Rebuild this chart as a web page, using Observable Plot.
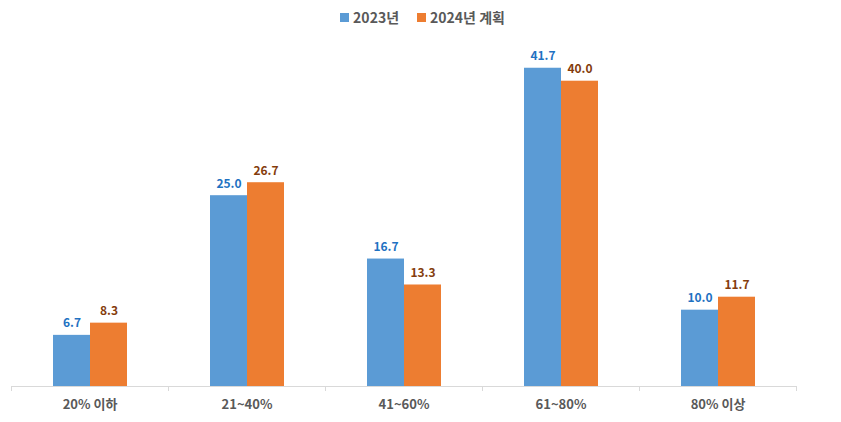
<!DOCTYPE html>
<html><head><meta charset="utf-8">
<script src="https://cdn.jsdelivr.net/npm/d3@7"></script>
<script src="https://cdn.jsdelivr.net/npm/@observablehq/plot@0.6"></script>
<style>
body{margin:0;background:#fff;font-family:"Noto Sans CJK KR","Noto Sans",sans-serif;}
#legend{height:34px;display:flex;justify-content:center;align-items:center;gap:18px;font-size:14px;font-weight:bold;color:#595959;padding-left:4px;}
#legend span.item{display:flex;align-items:center;gap:4px;}
#legend span.sw{display:inline-block;width:9px;height:9px;}
</style>
</head><body>
<div id="legend"></div>
<div id="chart"></div>
<script>
const categories = ["20% 이하","21~40%","41~60%","61~80%","80% 이상"];
const series = ["2023년","2024년 계획"];
const values2023 = [6.7,25.0,16.7,41.7,10.0];
const values2024 = [8.3,26.7,13.3,40.0,11.7];
const barColors = ["#5B9BD5","#ED7D31"];
const labelColors = ["#1F72C2","#843C0C"];

const table = categories.flatMap((c,i)=>[
  {cat:c, series:series[0], value:values2023[i]},
  {cat:c, series:series[1], value:values2024[i]}
]);

const legend = document.getElementById("legend");
series.forEach((s,i)=>{
  const it = document.createElement("span"); it.className="item";
  const sw = document.createElement("span"); sw.className="sw"; sw.style.background=barColors[i];
  const tx = document.createElement("span"); tx.textContent=s;
  it.append(sw,tx); legend.append(it);
});

const W=841, H=388, mL=11, mR=45;
const step = (W-mL-mR)/categories.length;

const chart = Plot.plot({
  width:W, height:H, marginLeft:mL, marginRight:mR, marginTop:20, marginBottom:36,
  style:{fontFamily:'"Noto Sans CJK KR","Noto Sans",sans-serif', background:"#fff"},
  fx:{domain:categories, padding:0, label:null, axis:null},
  x:{domain:series, axis:null, paddingInner:0, paddingOuter:1.09},
  y:{domain:[0,43.5], axis:null},
  color:{domain:series, range:barColors},
  marks:[
    Plot.barY(table,{fx:"cat", x:"series", y:"value", fill:"series"}),
    Plot.ruleY([0],{stroke:"#d9d9d9", strokeWidth:1}),
    ...series.map((s,i)=>Plot.text(table.filter(d=>d.series===s),{fx:"cat", x:"series", y:"value", text:d=>d.value.toFixed(1), fill:labelColors[i], dy:-8, lineAnchor:"bottom", fontWeight:"bold", fontSize:12})),
    Plot.axisFx({anchor:"bottom", tickSize:0, tickPadding:13, fontSize:13, fontWeight:"bold", fill:"#595959", label:null}),
    Plot.axisFx({anchor:"bottom", tickSize:5, text:null, stroke:"#d9d9d9", dx:-step/2, label:null}),
    Plot.axisFx({anchor:"bottom", ticks:[categories[categories.length-1]], tickSize:5, text:null, stroke:"#d9d9d9", dx:step/2, label:null})
  ]
});
document.getElementById("chart").append(chart);
</script>
</body></html>
